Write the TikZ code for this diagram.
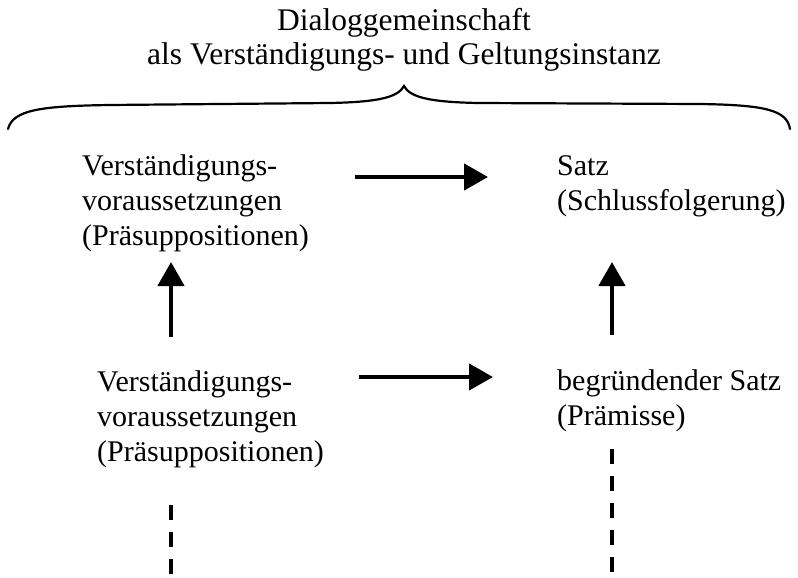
\documentclass[tikz,border=0pt]{standalone}
\usepackage{fontspec}
\setmainfont{Liberation Serif}
\usetikzlibrary{arrows.meta,calc}
\begin{document}
\begin{tikzpicture}[x=1pt,y=-1pt,
  txt/.style={anchor=base west, align=left, inner sep=0pt,
    font=\fontsize{30}{35}\selectfont},
  ttl/.style={anchor=base, align=center, inner sep=0pt,
    font=\fontsize{31.5}{34}\selectfont},
  arr/.style={line width=4.5pt, -{Triangle[length=24pt,width=26pt]}},
  dsh/.style={line width=4pt, dash pattern=on 15pt off 12pt},
  brace/.style={line width=2.2pt, line cap=round}]
\useasboundingbox (0,0) rectangle (798,578);

% heading above the brace (anchored at the baseline of its last line)
\node[ttl] (head) at (404,65)
  {Dialoggemeinschaft\\als Verständigungs- und Geltungsinstanz};

% curly brace spanning the whole width
\draw[brace] (8,129) .. controls (13,110) and (40,106) .. (110,105)
  -- (330,103) .. controls (380,102) and (398,97) .. (404,86)
  .. controls (410,97) and (428,102) .. (478,103)
  -- (700,104) .. controls (765,105) and (787,110) .. (790,129);

% the four statements, each placed by the baseline of its last line
\node[txt] (tl) at (82,245) {Verständigungs-\\voraussetzungen\\(Präsuppositionen)};
\node[txt] (tr) at (557,210) {Satz\\(Schlussfolgerung)};
\node[txt] (bl) at (97,461) {Verständigungs-\\voraussetzungen\\(Präsuppositionen)};
\node[txt] (br) at (557,425) {begründender Satz\\(Prämisse)};

% arrows between them
\draw[arr] ($(tl.base west)+(273,-68)$) -- ($(tr.base west)+(-69,-33)$);
\draw[arr] ($(bl.base west)+(262,-84)$) -- ($(br.base west)+(-64,-48)$);
\draw[arr] ($(bl.base west)+(74,-124)$) -- ($(tl.base west)+(89,17)$);
\draw[arr] ($(br.base west)+(55,-90)$) -- ($(tr.base west)+(55,52)$);

% open continuation downwards
\coordinate (endl) at ($(bl.base west)+(74,117)$);
\coordinate (endr) at ($(br.base west)+(55,153)$);
\draw[dsh] ($(bl.base west)+(74,44)$) -- (endl);
\draw[dsh] ($(br.base west)+(55,24)$) -- (endr);
\end{tikzpicture}
\end{document}
